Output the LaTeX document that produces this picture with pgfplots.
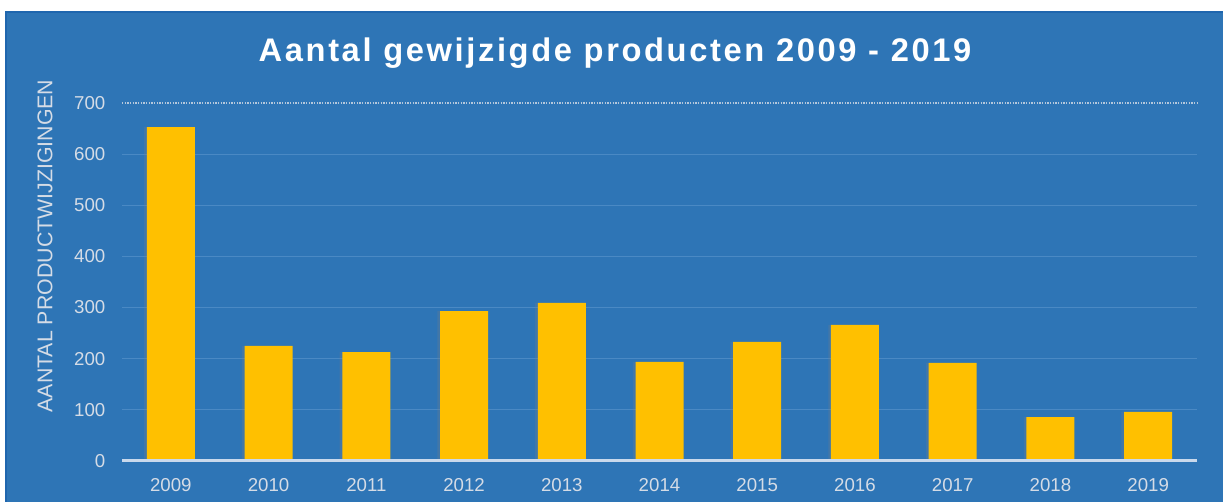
\documentclass[border=0pt]{standalone}
\usepackage{fontspec}
\setmainfont{Liberation Sans}
\newfontfamily\titlefont[LetterSpace=8]{Liberation Sans}
\usepackage{pgfplots}
\pgfplotsset{compat=1.18}
\usetikzlibrary{shadows}
\definecolor{bg}{HTML}{2E75B6}
\definecolor{bgedge}{HTML}{1F66AE}
\definecolor{barc}{HTML}{FFC000}
\definecolor{gridc}{HTML}{4A89C4}
\definecolor{txt}{HTML}{D5DCE6}
\definecolor{basec}{HTML}{C9D9EC}
\begin{document}
\begin{tikzpicture}
\begin{scope}[x=0.75pt,y=0.75pt]
\useasboundingbox (0,0) rectangle (1223,502);
\fill[white] (0,0) rectangle (1223,502);
\fill[bg] (6,0) rectangle (1223,490);
\draw[bgedge,line width=1pt] (6,0) -- (6,490) -- (1223,490);
\node[text=white,font=\titlefont\bfseries\fontsize{24.5}{28}\selectfont] at (615,449) {Aantal gewijzigde producten 2009 - 2019};
\node[text=txt,rotate=90,font=\fontsize{16}{19}\selectfont] at (45,256) {AANTAL PRODUCTWIJZIGINGEN};
\end{scope}
\begin{axis}[
  at={(91.5pt,30.75pt)}, anchor=south west,
  scale only axis, width=806.25pt, height=268.5pt,
  xmin=-0.5, xmax=10.5, ymin=0, ymax=700,
  axis line style={draw=none},
  tick style={draw=none},
  ymajorgrids, grid style={gridc, line width=0.9pt},
  ytick={0,100,200,300,400,500,600,700},
  xtick=data,
  xticklabels={2009,2010,2011,2012,2013,2014,2015,2016,2017,2018,2019},
  major tick length=0pt,
  /pgf/number format/assume math mode=true,
  ticklabel style={text=txt, font=\fontsize{14}{16}\selectfont},
  yticklabel style={xshift=-9pt},
  xticklabel style={yshift=-9.5pt},
  clip=false,
]
\draw[bg, line width=1.2pt] (axis cs:-0.5,700) -- (axis cs:10.5,700);
\draw[txt!80!bg, line width=1pt, densely dotted] (axis cs:-0.5,700) -- (axis cs:10.5,700);
\addplot[ybar, bar width=36pt, fill=barc, draw=none,
  drop shadow={shadow xshift=-2pt, shadow yshift=0pt, opacity=0.25}]
  coordinates {(0,653) (1,225) (2,213) (3,293) (4,309) (5,194) (6,233) (7,266) (8,192) (9,86) (10,96)};
\draw[basec, line width=2.25pt] (axis cs:-0.5,0) -- (axis cs:10.5,0);
\end{axis}
\end{tikzpicture}
\end{document}
